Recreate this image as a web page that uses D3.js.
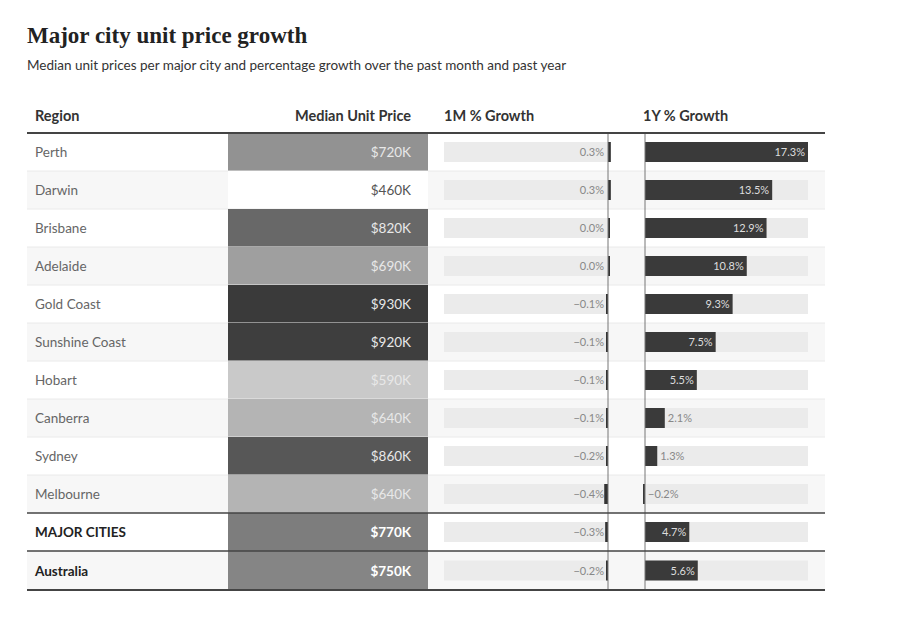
<!DOCTYPE html>
<html><head><meta charset="utf-8">
<script src="https://cdn.jsdelivr.net/npm/d3@7"></script>
<style>body{margin:0;background:#fff;font-family:Lato,"Open Sans",sans-serif;}</style>
</head><body><div id="chart"></div>
<script>
const regions = ["Perth","Darwin","Brisbane","Adelaide","Gold Coast","Sunshine Coast","Hobart","Canberra","Sydney","Melbourne","MAJOR CITIES","Australia"];
const prices = [720,460,820,690,930,920,590,640,860,640,770,750];
const growth1M = [0.3,0.3,0.0,0.0,-0.1,-0.1,-0.1,-0.1,-0.2,-0.4,-0.3,-0.2];
const growth1Y = [17.3,13.5,12.9,10.8,9.3,7.5,5.5,2.1,1.3,-0.2,4.7,5.6];
const headers = ["Region","Median Unit Price","1M % Growth","1Y % Growth"];

const W = 904, H = 637;
const svg = d3.select("#chart").append("svg").attr("width", W).attr("height", H);

svg.append("text").attr("x", 27).attr("y", 43)
  .style("font-family", "'Liberation Serif',serif").style("font-weight", "bold")
  .style("font-size", "23px").attr("fill", "#222").text("Major city unit price growth");
svg.append("text").attr("x", 27).attr("y", 70).style("font-size", "13.5px").attr("fill", "#333")
  .text("Median unit prices per major city and percentage growth over the past month and past year");

const left = 27, right = 825, headerLine = 133;
const rowTop = i => i < 10 ? headerLine + i * 38 : (i === 10 ? 513 : 551);
const rowH = i => i < 10 ? 38 : (i === 10 ? 38 : 39);

const color = d3.scaleLinear().domain([460, 930]).range(["#ffffff", "#3a3a3a"]);
const x = d3.scaleLinear().domain([0, 17.3]).range([0, 163]);
const zero1M = 608, zero1Y = 645;

// header
const hx = [35, 411, 444, 643];
const ha = ["start", "end", "start", "start"];
headers.forEach((h, k) => svg.append("text").attr("x", hx[k]).attr("y", 121)
  .attr("text-anchor", ha[k]).style("font-size", "14.5px").style("font-weight", "bold")
  .attr("fill", "#333").text(h));

regions.forEach((r, i) => {
  const y0 = rowTop(i), h = rowH(i), cy = y0 + h / 2;
  const bold = i >= 10;
  svg.append("rect").attr("x", left).attr("y", y0).attr("width", right - left).attr("height", h)
    .attr("fill", i % 2 ? "#f7f7f7" : "#fff");
  if (i < 10 && i > 0) svg.append("line").attr("x1", left).attr("x2", right)
    .attr("y1", y0).attr("y2", y0).attr("stroke", "#eaeaea");
  svg.append("text").attr("x", 35).attr("y", cy + 5).style("font-size", "13.5px")
    .style("font-weight", bold ? "bold" : "normal").attr("fill", bold ? "#222" : "#666").text(r);
  // price
  svg.append("rect").attr("x", 228).attr("y", y0).attr("width", 200).attr("height", h)
    .attr("fill", color(prices[i]));
  svg.append("text").attr("x", 411).attr("y", cy + 5).attr("text-anchor", "end")
    .style("font-size", "13.5px").style("font-weight", bold ? "bold" : "normal")
    .attr("fill", prices[i] < 560 ? "#555" : (bold ? "#fff" : "#e8e8e8")).text("$" + prices[i] + "K");
  // 1M
  svg.append("rect").attr("x", 444).attr("y", cy - 10).attr("width", zero1M - 444).attr("height", 20).attr("fill", "#ebebeb");
  const v1 = growth1M[i];
  svg.append("rect").attr("x", v1 >= 0 ? zero1M : zero1M - Math.max(x(-v1), 2)).attr("y", cy - 10)
    .attr("width", Math.max(x(Math.abs(v1)), 2)).attr("height", 20).attr("fill", "#333");
  svg.append("text").attr("x", 604).attr("y", cy + 4).attr("text-anchor", "end").style("font-size", "11px")
    .attr("fill", "#888").text(d3.format(".1f")(v1).replace("-", "−") + "%");
  // 1Y
  svg.append("rect").attr("x", zero1Y).attr("y", cy - 10).attr("width", 163).attr("height", 20).attr("fill", "#ebebeb");
  const v2 = growth1Y[i];
  const bw = Math.max(x(Math.abs(v2)), 2);
  svg.append("rect").attr("x", v2 >= 0 ? zero1Y : zero1Y - bw).attr("y", cy - 10)
    .attr("width", bw).attr("height", 20).attr("fill", "#3a3a3a");
  const inside = v2 > 4;
  svg.append("text").attr("x", inside ? zero1Y + x(v2) - 3 : zero1Y + Math.max(x(v2), 0) + 3)
    .attr("y", cy + 4).attr("text-anchor", inside ? "end" : "start").style("font-size", "11px")
    .attr("fill", inside ? "#ddd" : "#888").text(d3.format(".1f")(v2).replace("-", "−") + "%");
});

// vertical zero lines
[zero1M, zero1Y].forEach(z => svg.append("line").attr("x1", z).attr("x2", z)
  .attr("y1", headerLine).attr("y2", 590).attr("stroke", "#777").attr("stroke-width", 1));
// horizontal rules
[[headerLine, 2], [513, 1.5], [551, 1.5], [590, 2]].forEach(([y, w]) =>
  svg.append("line").attr("x1", left).attr("x2", right).attr("y1", y).attr("y2", y)
    .attr("stroke", "#444").attr("stroke-width", w));
</script></body></html>
